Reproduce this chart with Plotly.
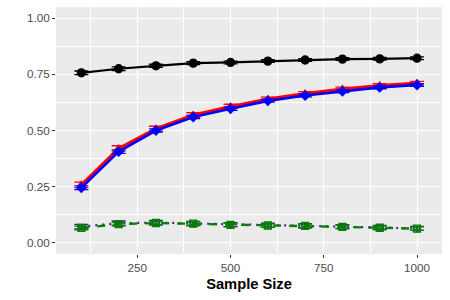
import plotly.graph_objects as go

sample_size = [100, 200, 300, 400, 500, 600, 700, 800, 900, 1000]

black_vals = [0.757, 0.775, 0.788, 0.800, 0.803, 0.809, 0.814, 0.818, 0.819, 0.822]
black_err = [0.008, 0.008, 0.007, 0.007, 0.006, 0.006, 0.006, 0.006, 0.006, 0.006]

red_vals = [0.258, 0.420, 0.508, 0.569, 0.607, 0.640, 0.664, 0.684, 0.700, 0.711]
red_err = [0.012, 0.012, 0.011, 0.010, 0.010, 0.009, 0.009, 0.009, 0.009, 0.008]

blue_vals = [0.245, 0.406, 0.500, 0.560, 0.597, 0.632, 0.656, 0.675, 0.692, 0.703]
blue_err = [0.008, 0.008, 0.007, 0.007, 0.007, 0.006, 0.006, 0.006, 0.006, 0.006]

green_vals = [0.066, 0.083, 0.088, 0.085, 0.080, 0.077, 0.075, 0.071, 0.067, 0.063]
green_err = [0.008, 0.008, 0.008, 0.008, 0.008, 0.008, 0.008, 0.008, 0.008, 0.008]

purple_vals = [0.072, 0.087, 0.090, 0.086, 0.081, 0.078, 0.076, 0.072, 0.068, 0.064]
purple_err = [0.010, 0.010, 0.010, 0.009, 0.009, 0.009, 0.009, 0.009, 0.009, 0.009]

x_ticks = [250, 500, 750, 1000]
y_ticks = [0.0, 0.25, 0.5, 0.75, 1.0]
y_tick_labels = ["0.00", "0.25", "0.50", "0.75", "1.00"]

series = [
    (black_vals, black_err, "black", "solid", 2.2, "circle", 8),
    (red_vals, red_err, "#FF0000", "solid", 3.2, "triangle-up", 7),
    (blue_vals, blue_err, "#0000FF", "solid", 2.6, "diamond", 7),
    (purple_vals, purple_err, "#5B1A8C", "2px,5px", 2.2, "triangle-down-open", 7),
    (green_vals, green_err, "#008000", "8px,8px", 2.4, "square-x-open", 7),
]

fig = go.Figure()
for vals, err, color, dash, lw, sym, msize in series:
    fig.add_trace(go.Scatter(
        x=sample_size, y=vals, mode="lines+markers",
        line=dict(color=color, width=lw, dash=dash),
        marker=dict(symbol=sym, size=msize, color=color,
                    line=dict(color=color, width=1.3)),
        error_y=dict(type="data", array=err, color=color, width=7, thickness=1.3),
        showlegend=False,
    ))

font_family = "Liberation Sans, Arial, sans-serif"
fig.update_layout(
    width=450, height=300,
    margin=dict(l=56, r=8, t=7, b=46),
    paper_bgcolor="white",
    plot_bgcolor="#EBEBEB",
    font=dict(family=font_family, size=12, color="#4D4D4D"),
    xaxis=dict(
        range=[32, 1067],
        automargin=False,
        tickvals=x_ticks,
        ticks="outside", ticklen=3, tickcolor="#333333", tickwidth=1,
        tickfont=dict(size=11.7, color="#4D4D4D"),
        showgrid=True, gridcolor="white", gridwidth=1.1,
        minor=dict(dtick=250, tick0=125, showgrid=True, gridcolor="white", gridwidth=0.5, ticks=""),
        zeroline=False, showline=False,
        title=dict(text="<b>Sample Size</b>", font=dict(size=14.7, color="black"), standoff=5),
    ),
    yaxis=dict(
        range=[-0.05, 1.05],
        automargin=False,
        tickvals=y_ticks, ticktext=y_tick_labels,
        ticks="outside", ticklen=3, tickcolor="#333333", tickwidth=1,
        tickfont=dict(size=11.7, color="#4D4D4D"),
        showgrid=True, gridcolor="white", gridwidth=1.1,
        minor=dict(dtick=0.25, tick0=0.125, showgrid=True, gridcolor="white", gridwidth=0.5, ticks=""),
        zeroline=False, showline=False,
    ),
)

fig.write_html("out.html", config={"displayModeBar": False},
               post_script="document.body.style.margin='0';")
